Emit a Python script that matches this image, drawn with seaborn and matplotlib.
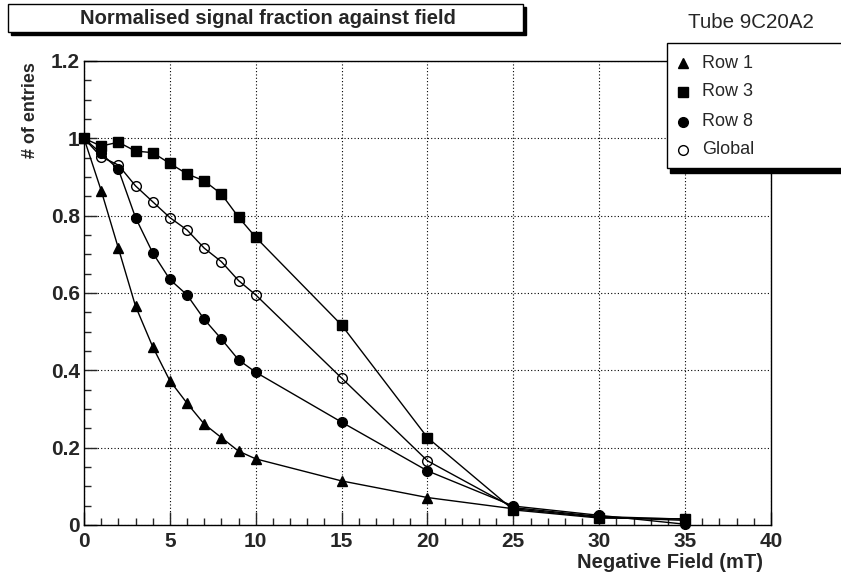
import matplotlib
matplotlib.use("Agg")
import matplotlib.pyplot as plt
import seaborn as sns
import numpy as np
import pandas as pd
from matplotlib.patches import Rectangle
from matplotlib.lines import Line2D
from matplotlib.ticker import MultipleLocator, FuncFormatter

field = [0, 1, 2, 3, 4, 5, 6, 7, 8, 9, 10, 15, 20, 25, 30, 35]
row1 = [1.0, 0.865, 0.716, 0.566, 0.461, 0.373, 0.315, 0.261, 0.226, 0.191, 0.171, 0.114, 0.071, 0.042, 0.020, 0.012]
row3 = [1.0, 0.980, 0.990, 0.967, 0.963, 0.935, 0.908, 0.890, 0.856, 0.796, 0.744, 0.517, 0.226, 0.039, 0.018, 0.016]
row8 = [1.0, 0.961, 0.920, 0.795, 0.704, 0.635, 0.595, 0.532, 0.481, 0.427, 0.395, 0.266, 0.140, 0.049, 0.025, 0.002]
glob = [1.0, 0.952, 0.931, 0.877, 0.836, 0.795, 0.763, 0.716, 0.681, 0.632, 0.595, 0.380, 0.166, 0.045, 0.022, 0.015]
labels = ["Row 1", "Row 3", "Row 8", "Global"]

sns.set_style("ticks")
plt.rcParams['font.family'] = ['Liberation Sans', 'DejaVu Sans']

W, H = 841, 579
fig = plt.figure(figsize=(W / 100, H / 100), dpi=100)
ax = fig.add_axes([84 / W, 1 - 525 / H, (771 - 84) / W, (525 - 61) / H])

styles = [("^", "black", "black", 6.5),
          ("s", "black", "black", 7),
          ("o", "black", "black", 7),
          ("o", "none", "black", 7)]
for ser, (m, fc, ec, ms) in zip([row1, row3, row8, glob], styles):
    df = pd.DataFrame({"x": field, "y": ser})
    sns.lineplot(data=df, x="x", y="y", ax=ax, color="black", lw=1,
                 marker=m, markersize=ms, markerfacecolor=fc,
                 markeredgecolor=ec, markeredgewidth=1, legend=False, zorder=3)
for ln in ax.lines:
    ln.set_clip_on(False)

ax.set_xlim(0, 40)
ax.set_ylim(0, 1.2)
ax.xaxis.set_major_locator(MultipleLocator(5))
ax.xaxis.set_minor_locator(MultipleLocator(1))
ax.yaxis.set_major_locator(MultipleLocator(0.2))
ax.yaxis.set_minor_locator(MultipleLocator(0.05))
ax.yaxis.set_major_formatter(FuncFormatter(
    lambda v, p: "0" if abs(v) < 1e-9 else ("1" if abs(v - 1) < 1e-9 else f"{v:.1f}")))
ax.tick_params(which="major", direction="in", length=9.4, width=1, labelsize=15)
ax.tick_params(axis="x", which="major", pad=5)
ax.tick_params(axis="y", which="major", pad=3)
ax.tick_params(which="minor", direction="in", length=5, width=1)
for lab in ax.get_xticklabels() + ax.get_yticklabels():
    lab.set_fontweight("bold")
ax.grid(which="major", linestyle=(0, (1, 2)), color="black", lw=0.8)
for s in ax.spines.values():
    s.set_linewidth(1)
    s.set_color("black")

ax.set_xlabel("Negative Field (mT)", fontsize=14.5, fontweight="bold", ha="right", va="top")
ax.xaxis.set_label_coords((763 - 84) / 687, (525 - 553) / 464)
ax.set_ylabel("# of entries", fontsize=13, fontweight="bold", ha="right", va="top")
ax.yaxis.set_label_coords((22 - 84) / 687, (525 - 62) / 464)


def fx(px):
    return px / W


def fy(py):
    return 1 - py / H


# title box with shadow
fig.patches.append(Rectangle((fx(11), fy(35)), fx(515), fy(0) - fy(28),
                             transform=fig.transFigure, facecolor="black", edgecolor="black", zorder=1))
fig.patches.append(Rectangle((fx(8), fy(32)), fx(515), fy(0) - fy(28),
                             transform=fig.transFigure, facecolor="white", edgecolor="black", lw=1, zorder=2))
fig.text(fx(268), fy(18.5), "Normalised signal fraction against field", ha="center", va="center",
         fontsize=14.5, fontweight="bold", zorder=3)
fig.text(fx(751), fy(22.5), "Tube 9C20A2", ha="center", va="center", fontsize=14.8)

# legend box with shadow
fig.patches.append(Rectangle((fx(670), fy(173)), fx(180), fy(0) - fy(128),
                             transform=fig.transFigure, facecolor="black", edgecolor="black", zorder=4))
fig.patches.append(Rectangle((fx(667), fy(168)), fx(180), fy(0) - fy(125),
                             transform=fig.transFigure, facecolor="white", edgecolor="black", lw=1, zorder=5))
ys = [63, 92, 122, 150]
for lab, yy, (m, fc, ec, ms) in zip(labels, ys, styles):
    fig.add_artist(Line2D([fx(683)], [fy(yy)], marker=m, markersize=ms, markerfacecolor=fc,
                          markeredgecolor=ec, linestyle="none", transform=fig.transFigure, zorder=6))
    fig.text(fx(702), fy(yy), lab, ha="left", va="center", fontsize=13, zorder=6)

fig.savefig("out.png", dpi=100)
